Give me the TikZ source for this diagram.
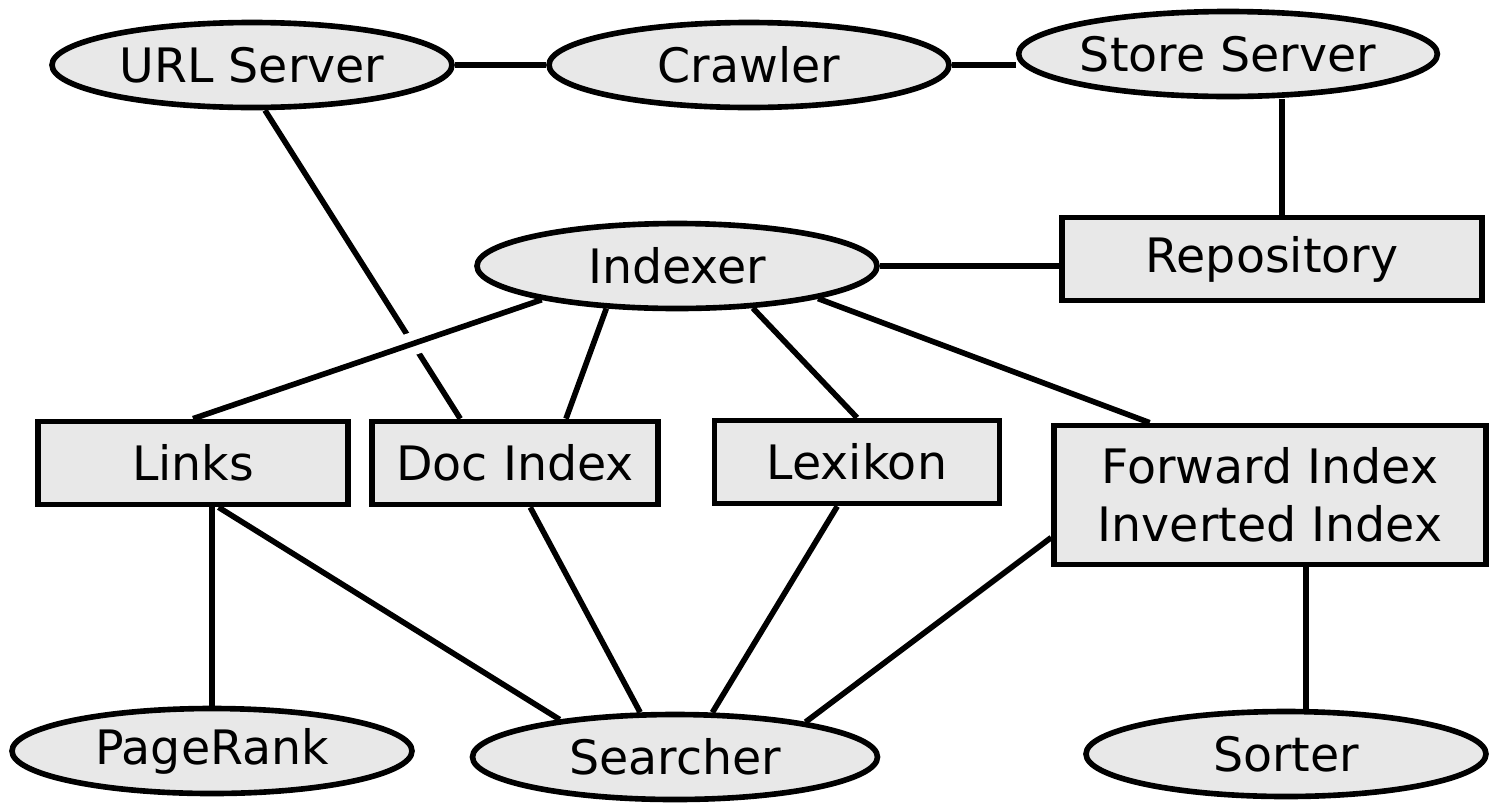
\documentclass[tikz,border=0pt]{standalone}
\usepackage{fontspec}
\setmainfont{DejaVu Sans}
\usetikzlibrary{shapes.geometric,backgrounds}

\definecolor{boxgray}{RGB}{232,232,232}

\begin{document}
\begin{tikzpicture}
[
	process/.style={ellipse,draw,fill=boxgray,line width=3.2pt,minimum width=8cm,minimum height=1.7cm,inner sep=0pt,font=\fontsize{27}{33}\selectfont},
	datastore/.style={rectangle,draw,fill=boxgray,line width=3.2pt,minimum height=1.66cm,inner sep=0pt,align=center,font=\fontsize{27}{33}\selectfont},
	link/.style={line width=3.2pt},
	crossing/.style={preaction={draw,white,line width=13pt}}
]

	\useasboundingbox (0,0) rectangle (29.82,-16.1);

	% crawling
	\node[process] (url) at (5.04,-1.3) {URL Server};
	\node[process] (crawler) at (14.98,-1.3) {Crawler};
	\node[process] (storesrv) at (24.56,-1.08) {Store Server};
	\node[datastore,minimum width=8.4cm] (repo) at (25.44,-5.18) {Repository};

	% indexing
	\node[process] (indexer) at (13.54,-5.32) {Indexer};
	\node[datastore,minimum width=6.2cm] (links) at (3.86,-9.26) {Links};
	\node[datastore,minimum width=5.72cm] (docidx) at (10.3,-9.26) {Doc Index};
	\node[datastore,minimum width=5.7cm] (lexikon) at (17.14,-9.24) {Lexikon};
	\node[datastore,minimum width=8.64cm,minimum height=2.78cm] (fwdinv) at (25.4,-9.9) {Forward Index\\Inverted Index};

	% bottom row
	\node[process] (pagerank) at (4.24,-15.02) {PageRank};
	\node[process,minimum width=8.1cm] (searcher) at (13.5,-15.14) {Searcher};
	\node[process] (sorter) at (25.72,-15.08) {Sorter};

	\begin{scope}[on background layer]
		\draw[link] (url.east) -- (crawler.west);
		\draw[link] (crawler.east) -- (crawler.east -| storesrv.west);
		\draw[link] ([xshift=0.2cm]repo.north) -- ([xshift=0.2cm]repo.north |- storesrv.south);
		\draw[link] (indexer.east) -- (indexer.east -| repo.west);

		\draw[link] (url.286) -- (docidx.141);
		\draw[link,crossing] (indexer.194) -- (links.north);
		\draw[link] (indexer.211) -- (docidx.41);
		\draw[link] (indexer.331) -- (lexikon.north);
		\draw[link] (indexer.347) -- (fwdinv.149);

		\draw[link] (links.south -| pagerank.north) -- (pagerank.north);
		\draw[link] (links.300) -- (searcher.162);
		\draw[link] (docidx.289) -- (searcher.128);
		\draw[link] (lexikon.246) -- (searcher.50);
		\draw[link] (fwdinv.191) -- (searcher.15);
		\draw[link] ([xshift=0.72cm]fwdinv.south) -- ([xshift=0.72cm]fwdinv.south |- sorter.north);
	\end{scope}

\end{tikzpicture}
\end{document}
